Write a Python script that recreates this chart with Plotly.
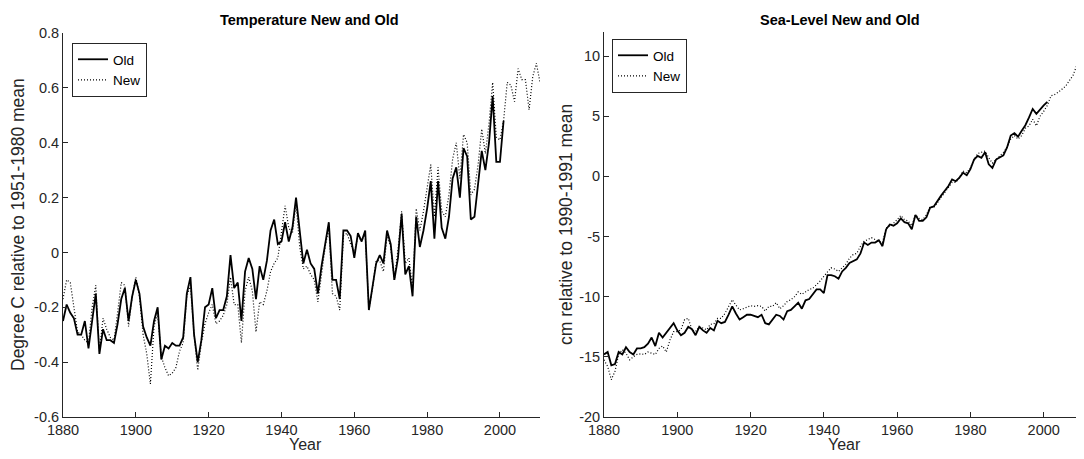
import plotly.graph_objects as go

# ---- data ----
temp_old_years = list(range(1880, 2002))
temp_old = [
    -0.25, -0.19, -0.22, -0.24, -0.30, -0.30, -0.25, -0.35, -0.25, -0.15,
    -0.37, -0.28, -0.32, -0.32, -0.33, -0.26, -0.17, -0.13, -0.25, -0.16,
    -0.10, -0.15, -0.27, -0.31, -0.34, -0.25, -0.20, -0.39, -0.34, -0.35,
    -0.33, -0.34, -0.34, -0.31, -0.15, -0.09, -0.30, -0.40, -0.32, -0.20,
    -0.19, -0.13, -0.24, -0.21, -0.21, -0.16, -0.01, -0.13, -0.11, -0.25,
    -0.07, -0.02, -0.06, -0.17, -0.05, -0.10, -0.03, 0.08, 0.12, 0.03,
    0.04, 0.11, 0.04, 0.09, 0.20, 0.08, -0.04, 0.01, -0.04, -0.06,
    -0.15, -0.05, 0.03, 0.11, -0.10, -0.10, -0.17, 0.08, 0.08, 0.06,
    -0.02, 0.07, 0.04, 0.08, -0.21, -0.12, -0.04, -0.01, -0.04, 0.08,
    0.03, -0.10, -0.02, 0.14, -0.08, -0.05, -0.16, 0.13, 0.02, 0.08,
    0.16, 0.26, 0.05, 0.26, 0.09, 0.05, 0.13, 0.27, 0.31, 0.20,
    0.38, 0.35, 0.12, 0.13, 0.25, 0.37, 0.30, 0.40, 0.57, 0.33,
    0.33, 0.48,
]

temp_new_years = list(range(1880, 2012))
temp_new = [
    -0.17, -0.10, -0.11, -0.21, -0.29, -0.30, -0.32, -0.33, -0.20, -0.12,
    -0.36, -0.24, -0.28, -0.31, -0.32, -0.22, -0.11, -0.12, -0.27, -0.16,
    -0.09, -0.16, -0.30, -0.37, -0.48, -0.27, -0.22, -0.38, -0.42, -0.45,
    -0.44, -0.42, -0.36, -0.33, -0.16, -0.12, -0.30, -0.43, -0.33, -0.26,
    -0.22, -0.19, -0.26, -0.25, -0.23, -0.19, -0.09, -0.19, -0.19, -0.33,
    -0.14, -0.09, -0.14, -0.29, -0.18, -0.19, -0.14, -0.07, -0.04, -0.02,
    0.08, 0.17, 0.09, 0.07, 0.18, 0.02, -0.06, -0.05, -0.08, -0.10,
    -0.18, -0.08, 0.02, 0.09, -0.15, -0.16, -0.21, 0.06, 0.07, 0.03,
    0.00, 0.06, 0.04, 0.07, -0.21, -0.13, -0.03, -0.03, -0.07, 0.06,
    0.02, -0.10, 0.01, 0.15, -0.04, -0.02, -0.13, 0.16, 0.08, 0.15,
    0.24, 0.32, 0.13, 0.31, 0.15, 0.13, 0.21, 0.34, 0.40, 0.27,
    0.43, 0.40, 0.21, 0.23, 0.32, 0.45, 0.36, 0.47, 0.62, 0.42,
    0.41, 0.48, 0.62, 0.61, 0.55, 0.67, 0.63, 0.63, 0.52, 0.64,
    0.69, 0.62,
]

sea_old_years = list(range(1880, 2002))
sea_old = [
    -14.8, -14.6, -15.7, -15.6, -14.6, -14.8, -14.2, -14.6, -14.8, -14.3,
    -14.3, -14.2, -13.9, -13.4, -14.1, -13.0, -13.4, -13.0, -12.6, -12.2,
    -12.8, -13.2, -13.0, -12.5, -12.7, -13.2, -12.5, -12.8, -13.0, -12.6,
    -12.8, -12.0, -12.2, -12.1, -11.5, -10.8, -11.4, -11.9, -11.7, -11.5,
    -11.5, -11.6, -11.7, -11.5, -12.2, -12.3, -11.9, -11.5, -11.6, -11.9,
    -11.2, -11.1, -10.8, -10.5, -11.0, -10.3, -10.2, -9.8, -9.4, -9.4,
    -9.7, -8.2, -8.2, -8.3, -8.5, -7.9, -7.6, -7.2, -7.05, -6.9,
    -6.4, -5.5, -5.7, -5.5, -5.5, -5.3, -5.8, -4.4, -4.0, -4.1,
    -3.9, -3.5, -3.8, -3.9, -4.4, -3.2, -3.7, -3.7, -3.4, -2.6,
    -2.5, -2.0, -1.6, -1.2, -0.8, -0.25, -0.4, -0.1, 0.3, 0.1,
    0.6, 1.4, 1.7, 1.55, 2.0, 1.0, 0.7, 1.4, 1.55, 1.75,
    2.4, 3.4, 3.6, 3.3, 3.8, 4.25, 4.9, 5.6, 5.2, 5.6,
    5.9, 6.2,
]

sea_new_years = list(range(1880, 2011))
sea_new = [
    -15.25, -15.8, -16.9, -16.2, -14.8, -14.4, -14.7, -15.25, -15.0, -14.8,
    -14.75, -14.8, -14.6, -14.7, -14.8, -14.3, -14.1, -14.6, -13.6, -12.9,
    -12.9, -12.75, -11.9, -11.8, -12.75, -12.9, -12.5, -12.6, -12.75, -12.3,
    -12.25, -11.8, -11.8, -11.4, -10.8, -10.25, -10.7, -11.1, -11.0, -10.9,
    -10.75, -10.8, -10.75, -10.8, -11.2, -10.8, -10.8, -10.5, -11.0, -10.75,
    -10.4, -10.25, -10.0, -9.6, -9.8, -9.6, -9.4, -9.3, -9.0, -8.7,
    -8.3, -7.9, -7.6, -7.7, -7.9, -7.6, -7.3, -6.8, -6.5, -6.4,
    -5.8, -5.4, -5.25, -5.1, -5.25, -5.4, -5.5, -4.3, -4.1, -3.9,
    -3.6, -3.25, -3.6, -3.7, -4.1, -3.2, -3.5, -3.6, -3.2, -2.5,
    -2.6, -2.2, -1.8, -1.4, -0.95, -0.5, -0.5, -0.1, 0.45, 0.3,
    0.7, 1.4, 1.9, 2.0, 2.1, 1.55, 1.1, 1.4, 1.7, 2.0,
    2.4, 3.1, 3.4, 3.1, 3.4, 4.0, 4.2, 4.75, 4.2, 5.0,
    5.4, 5.9, 6.7, 6.8, 7.0, 7.25, 7.5, 7.95, 8.4, 9.2,
    9.9,
]

year_ticks = [1880, 1900, 1920, 1940, 1960, 1980, 2000]
temp_ticks = [-0.6, -0.4, -0.2, 0, 0.2, 0.4, 0.6, 0.8]
temp_tick_text = ["-0.6", "-0.4", "-0.2", "0", "0.2", "0.4", "0.6", "0.8"]
sea_ticks = [-20, -15, -10, -5, 0, 5, 10]
sea_tick_text = ["-20", "-15", "-10", "-5", "0", "5", "10"]

FONT = "Liberation Sans, Arial, sans-serif"
AX = "#262626"
W, H = 1084, 459
OFF = 8  # the page body adds an 8px margin, so positions are measured minus that


def px(x):
    return (x - OFF) / W


def py(y):
    return 1 - (y - OFF) / H


fig = go.Figure()

old_line = dict(color="black", width=1.8)
new_line = dict(color="black", width=1.2, dash="1px,2px")

fig.add_trace(go.Scatter(x=temp_old_years, y=temp_old, name="Old", mode="lines",
                         line=old_line, xaxis="x", yaxis="y", legend="legend"))
fig.add_trace(go.Scatter(x=temp_new_years, y=temp_new, name="New", mode="lines",
                         line=new_line, xaxis="x", yaxis="y", legend="legend"))
fig.add_trace(go.Scatter(x=sea_old_years, y=sea_old, name="Old", mode="lines",
                         line=old_line, xaxis="x2", yaxis="y2", legend="legend2"))
fig.add_trace(go.Scatter(x=sea_new_years, y=sea_new, name="New", mode="lines",
                         line=new_line, xaxis="x2", yaxis="y2", legend="legend2"))

axis_common = dict(showline=True, linecolor=AX, linewidth=1, ticks="inside", ticklen=5,
                   tickcolor=AX, showgrid=False, zeroline=False, automargin=False,
                   tickfont=dict(family=FONT, size=14.5, color=AX))

legend_common = dict(bgcolor="white", bordercolor=AX, borderwidth=1,
                     font=dict(family=FONT, size=13.5, color="black"),
                     xanchor="left", yanchor="top", tracegroupgap=0, itemwidth=30)


def note(text, x, y, size, angle=0, color=AX):
    return dict(text=text, x=px(x), y=py(y), xref="paper", yref="paper",
                xanchor="center", yanchor="middle", textangle=angle, showarrow=False,
                font=dict(family=FONT, size=size, color=color))


fig.update_layout(
    width=W, height=H,
    margin=dict(l=0, r=0, t=0, b=0, autoexpand=False),
    paper_bgcolor="white", plot_bgcolor="white",
    showlegend=True,
    xaxis=dict(domain=[px(63), px(540)], range=[1880, 2011], tickvals=year_ticks,
               anchor="y", **axis_common),
    yaxis=dict(domain=[py(417), py(33)], range=[-0.6, 0.8], tickvals=temp_ticks,
               ticktext=temp_tick_text, anchor="x", **axis_common),
    xaxis2=dict(domain=[px(604), px(1084)], range=[1880, 2011], tickvals=year_ticks,
                anchor="y2", **axis_common),
    yaxis2=dict(domain=[py(417), py(32)], range=[-20, 12], tickvals=sea_ticks,
                ticktext=sea_tick_text, anchor="x2", **axis_common),
    legend=dict(x=px(72), y=py(43), **legend_common),
    legend2=dict(x=px(612), y=py(39), **legend_common),
    annotations=[
        note("<b>Temperature New and Old</b>", 309, 20, 14.5, color="black"),
        note("<b>Sea-Level New and Old</b>", 840, 20, 14.5, color="black"),
        note("Year", 305, 444, 16),
        note("Year", 844, 444, 16),
        note("Degree C relative to 1951-1980 mean", 18, 225, 17.5, -90),
        note("cm relative to 1990-1991 mean", 566, 225, 17.5, -90),
    ],
)

fig.write_html("out.html")
